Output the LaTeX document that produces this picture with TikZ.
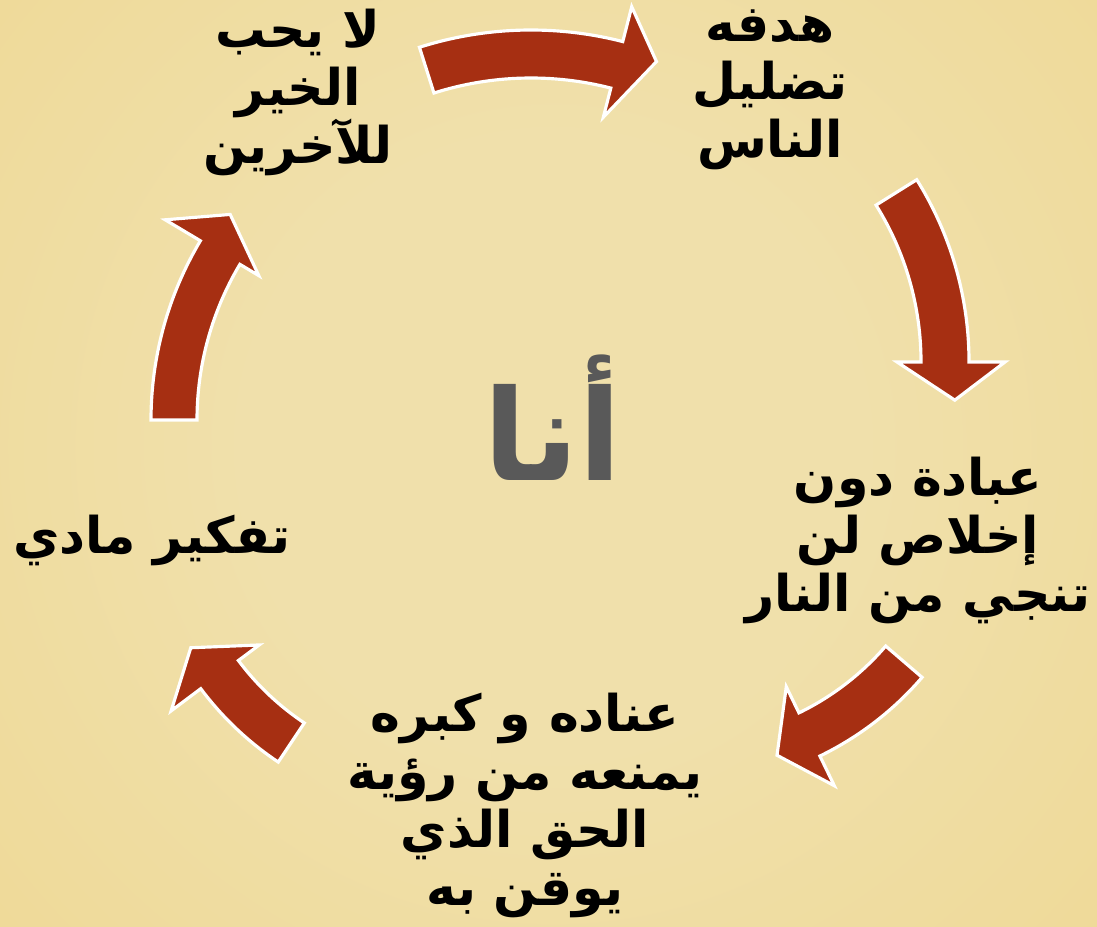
\documentclass[tikz,border=0pt]{standalone}
\usepackage{fontspec}
\usepackage{tikz}
\usetikzlibrary{calc}
\TeXXeTstate=1
\newfontfamily\arabicfont[Script=Arabic]{DejaVu Sans}
\newcommand{\artext}[1]{\beginR #1\endR}
\definecolor{rust}{RGB}{166,47,18}
\definecolor{sandlight}{RGB}{240,224,171}
\definecolor{sandmid}{RGB}{238,214,142}
\definecolor{sanddark}{RGB}{239,208,122}
\definecolor{mygray}{RGB}{89,89,89}
\pgfdeclareradialshading{sandbg}{\pgfpoint{0bp}{0bp}}{color(0bp)=(sandlight); color(10bp)=(sandlight); color(32bp)=(sandmid); color(46bp)=(sanddark); color(50bp)=(sanddark)}

\begin{document}
\begin{tikzpicture}[x = 0.1mm, y = 0.1mm,
                        blockarrow/.style = {fill = rust, draw = white, line width = 0.9pt, line join = miter},
                        phrase/.style = {font = \arabicfont\bfseries\fontsize{14.4}{16.5}\selectfont, align = center, text = black},
                        core/.style = {font = \arabicfont\bfseries\fontsize{36}{40}\selectfont, text = mygray}]
      \useasboundingbox (0, 0) rectangle (1097, 926);
      \begin{scope}
      \clip (0, 0) rectangle (1097, 926);
      \shade [shading = sandbg] (553, 480) circle (770);
      \end{scope}

      \node [core] (me) at (553, 508){\artext{أنا}};

      \node [phrase] (t1) at (298, 834){\artext{لا يحب}\\\artext{الخير}\\\artext{للآخرين}};
      \node [phrase] (t2) at (770, 836){\artext{هدفه}\\\artext{تضليل}\\\artext{الناس}};
      \node [phrase] (t3) at (918, 386){\artext{عبادة دون}\\\artext{إخلاص لن}\\\artext{تنجي من النار}};
      \node [phrase] (t4) at (525, 121){\artext{عناده و كبره}\\\artext{يمنعه من رؤية}\\\artext{الحق الذي}\\\artext{يوقن به}};
      \node [phrase] (t5) at (152, 386){\artext{تفكير مادي}};

      \coordinate (c1) at (531, 527);
      \coordinate (c2) at (625, 564);
      \coordinate (c3) at (681, 456);
      \coordinate (c4) at (453, 426);
      \coordinate (c5) at (501, 506);

      \draw [blockarrow] ($(c1)+(107.6:369)$) arc [start angle = 107.6, end angle = 75.6, radius = 369]
            -- ($(c1)+(75.6:405)$) -- ($(c1)+(69.6:360)$) -- ($(c1)+(75.6:291)$)
            -- ($(c1)+(75.6:321)$) arc [start angle = 75.6, end angle = 107.6, radius = 321] -- cycle;
      \draw [blockarrow] ($(c2)+(32:344)$) arc [start angle = 32, end angle = 0, radius = 344]
            -- ($(c2)+(0:380)$) -- ($(c2)+(-6.6:332)$) -- ($(c2)+(0:272)$)
            -- ($(c2)+(0:296)$) arc [start angle = 0, end angle = 32, radius = 296] -- cycle;
      \draw [blockarrow] ($(c3)+(-40.7:318)$) arc [start angle = -40.7, end angle = -64.1, radius = 318]
            -- ($(c3)+(-64.1:351)$) -- ($(c3)+(-71.4:301)$) -- ($(c3)+(-64.1:241)$)
            -- ($(c3)+(-64.1:270)$) arc [start angle = -64.1, end angle = -40.7, radius = 270] -- cycle;
      \draw [blockarrow] ($(c4)+(236.3:315)$) arc [start angle = 236.3, end angle = 216.8, radius = 315]
            -- ($(c4)+(216.8:352)$) -- ($(c4)+(209.4:301)$) -- ($(c4)+(216.8:242)$)
            -- ($(c4)+(216.8:268)$) arc [start angle = 216.8, end angle = 236.3, radius = 268] -- cycle;
      \draw [blockarrow] ($(c5)+(180:350)$) arc [start angle = 180, end angle = 149.2, radius = 350]
            -- ($(c5)+(149.2:391)$) -- ($(c5)+(142.8:340)$) -- ($(c5)+(149.2:282)$)
            -- ($(c5)+(149.2:304)$) arc [start angle = 149.2, end angle = 180, radius = 304] -- cycle;

      \end{tikzpicture}
\end{document}
